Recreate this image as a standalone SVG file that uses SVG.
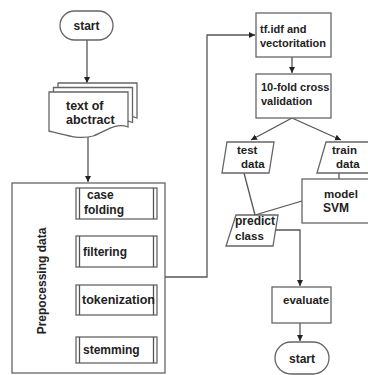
<svg xmlns="http://www.w3.org/2000/svg" width="368" height="375" viewBox="0 0 368 375">
<defs>
<style>
.s{fill:#fff;stroke:#666;stroke-width:1.3}
.c{fill:none;stroke:#555;stroke-width:1.3}
.t{font-family:"Liberation Sans",Arial,sans-serif;font-weight:bold;fill:#222}
</style>
<marker id="ah" markerUnits="userSpaceOnUse" markerWidth="8" markerHeight="8" refX="6" refY="3" orient="auto">
<path d="M0,0 L6,3 L0,6 Z" fill="#222"/>
</marker>
<path id="doc" d="M49,92 H128 V127 C115,122 105,132 93,136 C80,140 64,135 49,131 Z"/>
</defs>
<rect width="368" height="375" fill="#fff"/>
<g id="connectors">
<line class="c" x1="87" y1="40" x2="87" y2="83" marker-end="url(#ah)"/>
<line class="c" x1="88" y1="137" x2="88" y2="182" marker-end="url(#ah)"/>
<line class="c" x1="116" y1="219" x2="116" y2="235" marker-end="url(#ah)"/>
<line class="c" x1="116" y1="267" x2="116" y2="284" marker-end="url(#ah)"/>
<line class="c" x1="116" y1="315" x2="116" y2="336" marker-end="url(#ah)"/>
<polyline class="c" points="165,277 207,277 207,35 255,35" marker-end="url(#ah)"/>
<line class="c" x1="292" y1="57" x2="292" y2="73" marker-end="url(#ah)"/>
<line class="c" x1="292" y1="118" x2="251" y2="140" marker-end="url(#ah)"/>
<line class="c" x1="292" y1="118" x2="341" y2="140" marker-end="url(#ah)"/>
<line class="c" x1="339" y1="173" x2="339" y2="179"/>
<line class="c" x1="244" y1="173" x2="255" y2="215"/>
<line class="c" x1="302" y1="201" x2="255" y2="215"/>
<polyline class="c" points="275,230 300,230 300,286" marker-end="url(#ah)"/>
<line class="c" x1="300" y1="323" x2="300" y2="341" marker-end="url(#ah)"/>
</g>
<g id="start">
<rect class="s" x="60" y="11" width="53" height="29" rx="14.5"/>
<text class="t" x="86.5" y="30" font-size="12" text-anchor="middle">start</text>
</g>
<g id="text-of-abstract">
<use href="#doc" class="s" transform="translate(9,-9)"/>
<use href="#doc" class="s" transform="translate(4.5,-4.5)"/>
<use href="#doc" class="s"/>
<text class="t" x="66" y="110" font-size="12.5">text of</text>
<text class="t" x="66" y="124" font-size="12.5">abctract</text>
</g>
<g id="preprocessing">
<rect class="s" x="12" y="183" width="153" height="190"/>
<text class="t" font-size="12" text-anchor="middle" transform="translate(46,281) rotate(-90)">Prepocessing data</text>
</g>
<g id="case-folding">
<rect class="s" x="76" y="188" width="81" height="31"/>
<line class="c" x1="79.5" y1="188" x2="79.5" y2="219"/>
<line class="c" x1="153.5" y1="188" x2="153.5" y2="219"/>
<text class="t" x="87" y="199" font-size="12">case</text>
<text class="t" x="84" y="214" font-size="12">folding</text>
</g>
<g id="filtering">
<rect class="s" x="76" y="236" width="81" height="31"/>
<line class="c" x1="79.5" y1="236" x2="79.5" y2="267"/>
<line class="c" x1="153.5" y1="236" x2="153.5" y2="267"/>
<text class="t" x="83" y="256" font-size="12">filtering</text>
</g>
<g id="tokenization">
<rect class="s" x="76" y="285" width="81" height="30"/>
<line class="c" x1="79.5" y1="285" x2="79.5" y2="315"/>
<line class="c" x1="153.5" y1="285" x2="153.5" y2="315"/>
<text class="t" x="82" y="304" font-size="12.5">tokenization</text>
</g>
<g id="stemming">
<rect class="s" x="76" y="337" width="81" height="26"/>
<line class="c" x1="79.5" y1="337" x2="79.5" y2="363"/>
<line class="c" x1="153.5" y1="337" x2="153.5" y2="363"/>
<text class="t" x="83" y="354" font-size="12">stemming</text>
</g>
<g id="tfidf">
<rect class="s" x="256" y="13" width="75" height="44"/>
<text class="t" x="260" y="33" font-size="11">tf.idf and</text>
<text class="t" x="260" y="47" font-size="11">vectoritation</text>
</g>
<g id="cross-validation">
<rect class="s" x="256" y="74" width="75" height="44"/>
<text class="t" x="261" y="91" font-size="11">10-fold cross</text>
<text class="t" x="261" y="105" font-size="11">validation</text>
</g>
<g id="test-data">
<polygon class="s" points="227,142 274,142 269,173 222,173"/>
<text class="t" x="237" y="154" font-size="11.5">test</text>
<text class="t" x="241" y="168" font-size="11.5">data</text>
</g>
<g id="train-data">
<polygon class="s" points="326,142 374,142 369,173 317,173"/>
<text class="t" x="332" y="154" font-size="11.5">train</text>
<text class="t" x="336" y="168" font-size="11.5">data</text>
</g>
<g id="model-svm">
<rect class="s" x="302" y="179" width="72" height="44"/>
<text class="t" x="324" y="198" font-size="11.5">model</text>
<text class="t" x="323" y="212" font-size="12">SVM</text>
</g>
<g id="predict-class">
<polygon class="s" points="236,215 278,215 273,246 226,246"/>
<text class="t" x="235" y="225" font-size="12">predict</text>
<text class="t" x="235" y="240" font-size="11.5">class</text>
</g>
<g id="evaluate">
<rect class="s" x="272" y="287" width="59" height="36"/>
<text class="t" x="283" y="304" font-size="11.5">evaluate</text>
</g>
<g id="end">
<rect class="s" x="275" y="342" width="54" height="32" rx="16"/>
<text class="t" x="302" y="363" font-size="12" text-anchor="middle">start</text>
</g>
</svg>
